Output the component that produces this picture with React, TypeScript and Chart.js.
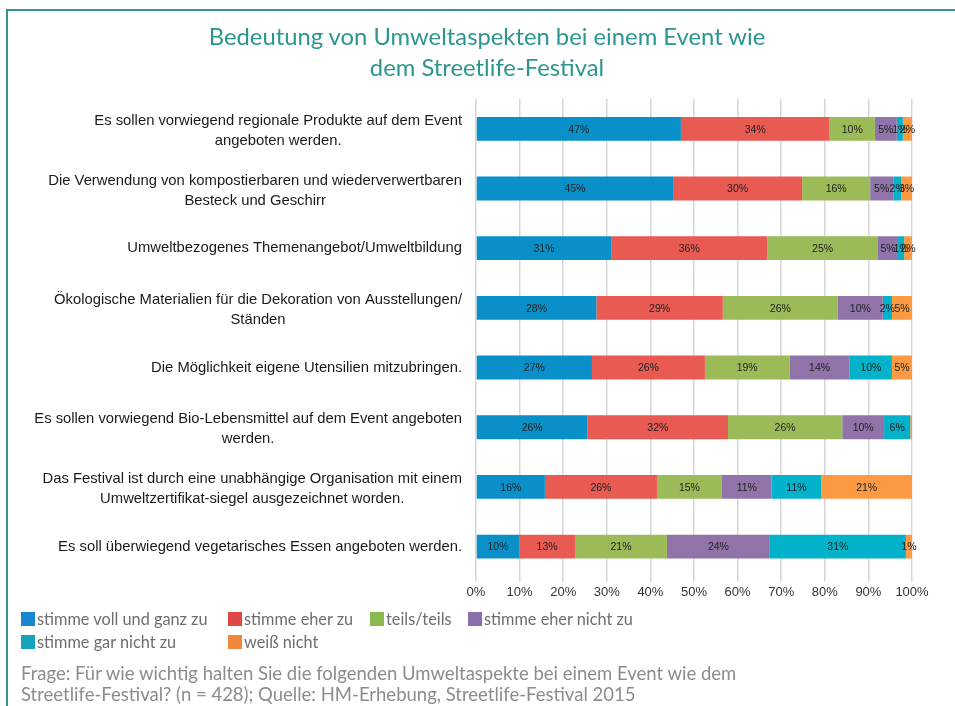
import React, { useEffect, useRef } from "react";
import { Chart, registerables } from "chart.js";
Chart.register(...registerables);

const TITLE_LINES = ["Bedeutung von Umweltaspekten bei einem Event wie", "dem Streetlife-Festival"];

const CATEGORIES: string[][] = [
  ["Es sollen vorwiegend regionale Produkte auf dem Event", "angeboten werden."],
  ["Die Verwendung von kompostierbaren und wiederverwertbaren", "Besteck und Geschirr"],
  ["Umweltbezogenes Themenangebot/Umweltbildung"],
  ["Ökologische Materialien für die Dekoration von Ausstellungen/", "Ständen"],
  ["Die Möglichkeit eigene Utensilien mitzubringen."],
  ["Es sollen vorwiegend Bio-Lebensmittel auf dem Event angeboten", "werden."],
  ["Das Festival ist durch eine unabhängige Organisation mit einem", "Umweltzertifikat-siegel ausgezeichnet worden."],
  ["Es soll überwiegend vegetarisches Essen angeboten werden."],
];

const SERIES_NAMES = [
  "stimme voll und ganz zu",
  "stimme eher zu",
  "teils/teils",
  "stimme eher nicht zu",
  "stimme gar nicht zu",
  "weiß nicht",
];

const SERIES_COLORS = ["#0a90c8", "#e85a52", "#9bbb59", "#8f73a9", "#02b2ca", "#fb9a42"];
const LEGEND_COLORS = ["#1a86cf", "#e04848", "#8cb850", "#8a6ea8", "#16a3bb", "#f0883c"];

const VOLL = [47.0, 45.2, 31.0, 27.6, 26.6, 25.6, 15.8, 9.9];
const EHER = [34.1, 29.6, 35.8, 29.0, 25.9, 32.2, 25.7, 12.8];
const TEILS = [10.4, 15.6, 25.4, 26.4, 19.4, 26.2, 14.9, 21.1];
const EHER_NICHT = [5.0, 5.3, 4.6, 10.3, 13.8, 9.6, 11.4, 23.6];
const GAR_NICHT = [1.4, 1.8, 1.4, 2.1, 9.7, 6.0, 11.4, 31.2];
const WEISS = [2.1, 2.5, 1.8, 4.6, 4.6, 0.4, 20.8, 1.4];

const SERIES_VALUES = [VOLL, EHER, TEILS, EHER_NICHT, GAR_NICHT, WEISS];

const X_TICKS_STEP = 10;

const FOOTER_LINES = [
  "Frage: Für wie wichtig halten Sie die folgenden Umweltaspekte bei einem Event wie dem",
  "Streetlife-Festival? (n = 428); Quelle: HM-Erhebung, Streetlife-Festival 2015",
];

const catLabelPlugin = {
  id: "catLabels",
  afterDraw(chart: any) {
    const ctx = chart.ctx;
    const yScale = chart.scales.y;
    ctx.save();
    ctx.font = '14.8px "Liberation Sans", Arial, sans-serif';
    ctx.fillStyle = "#1a1a1a";
    ctx.textBaseline = "middle";
    ctx.textAlign = "center";
    const right = chart.chartArea.left - 14;
    const lh = 20;
    CATEGORIES.forEach((lines, i) => {
      const cy = yScale.getPixelForValue(i);
      const w = Math.max(...lines.map((l) => ctx.measureText(l).width));
      const cx = right - w / 2;
      const off = lines.length > 1 ? 2 : 0;
      lines.forEach((l, j) => {
        ctx.fillText(l, cx, cy + off + (j - (lines.length - 1) / 2) * lh);
      });
    });
    ctx.restore();
  },
};

const valueLabelPlugin = {
  id: "valueLabels",
  afterDatasetsDraw(chart: any) {
    const ctx = chart.ctx;
    ctx.save();
    ctx.font = '10.5px "Liberation Sans", Arial, sans-serif';
    ctx.fillStyle = "#222";
    ctx.textAlign = "center";
    ctx.textBaseline = "middle";
    chart.data.datasets.forEach((ds: any, di: number) => {
      const meta = chart.getDatasetMeta(di);
      meta.data.forEach((el: any, i: number) => {
        const v = Math.round(ds.data[i]);
        if (v <= 0) return;
        const p = el.getProps(["x", "y", "base"], true);
        ctx.fillText(v + "%", (p.x + p.base) / 2, p.y + 1);
      });
    });
    ctx.restore();
  },
};

function ChartCanvas() {
  const ref = useRef<HTMLCanvasElement | null>(null);
  useEffect(() => {
    if (!ref.current) return;
    const chart = new Chart(ref.current, {
      type: "bar",
      data: {
        labels: CATEGORIES.map((c) => c.join(" ")),
        datasets: SERIES_NAMES.map((name, k) => ({
          label: name,
          data: SERIES_VALUES[k],
          backgroundColor: SERIES_COLORS[k],
          borderWidth: 0,
          barPercentage: 0.4,
          categoryPercentage: 1,
        })),
      },
      options: {
        indexAxis: "y",
        animation: false,
        responsive: false,
        maintainAspectRatio: false,
        layout: { padding: { left: 476, right: 43, top: 99, bottom: 103 } },
        plugins: {
          legend: { display: false },
          title: { display: false },
          tooltip: { enabled: false },
        },
        scales: {
          x: {
            stacked: true,
            min: 0,
            max: 100,
            ticks: {
              stepSize: X_TICKS_STEP,
              callback: (v: any) => v + "%",
              color: "#333",
              font: { family: '"Liberation Sans", Arial, sans-serif', size: 13 },
              padding: 3,
            },
            grid: { color: "#d6d6d6", lineWidth: 1.5, tickLength: 5 },
            border: { display: false },
          },
          y: {
            stacked: true,
            display: false,
            grid: { display: false },
          },
        },
      },
      plugins: [catLabelPlugin, valueLabelPlugin],
    } as any);
    return () => chart.destroy();
  }, []);
  return (
    <canvas
      ref={ref}
      width={955}
      height={706}
      style={{ position: "absolute", left: 0, top: 0, width: 955, height: 706 }}
    />
  );
}

export default function App() {
  return (
    <div
      style={{
        position: "absolute",
        left: 0,
        top: 0,
        width: 955,
        height: 706,
        overflow: "hidden",
        background: "#fff",
        fontFamily: "Lato, 'Open Sans', sans-serif",
      }}
    >
      <div
        style={{
          position: "absolute",
          left: 6,
          top: 9,
          width: 960,
          height: 720,
          borderTop: "2px solid #2f9690",
          borderLeft: "2px solid #2f9690",
        }}
      />
      <ChartCanvas />
      <div
        style={{
          position: "absolute",
          left: 19,
          top: 21,
          width: 936,
          textAlign: "center",
          color: "#2b958f",
          fontSize: 23.8,
          lineHeight: "31px",
        }}
      >
        {TITLE_LINES.map((t, i) => (
          <div key={i}>{t}</div>
        ))}
      </div>
      <div
        style={{
          position: "absolute",
          left: 21,
          top: 607,
          display: "grid",
          gridTemplateColumns: "207px 142px 98px auto",
          rowGap: 0,
          fontSize: 16.3,
          lineHeight: "23px",
          color: "#6e6e6e",
        }}
      >
        {SERIES_NAMES.map((name, k) => (
          <div key={k} style={{ display: "flex", alignItems: "center", whiteSpace: "nowrap" }}>
            <span
              style={{
                display: "inline-block",
                width: 14,
                height: 14,
                background: LEGEND_COLORS[k],
                marginRight: 2,
              }}
            />
            <span>{name}</span>
          </div>
        ))}
      </div>
      <div
        style={{
          position: "absolute",
          left: 21,
          top: 663,
          fontSize: 18.5,
          lineHeight: "21px",
          color: "#8c8c8c",
          whiteSpace: "nowrap",
        }}
      >
        {FOOTER_LINES.map((t, i) => (
          <div key={i}>{t}</div>
        ))}
      </div>
    </div>
  );
}
